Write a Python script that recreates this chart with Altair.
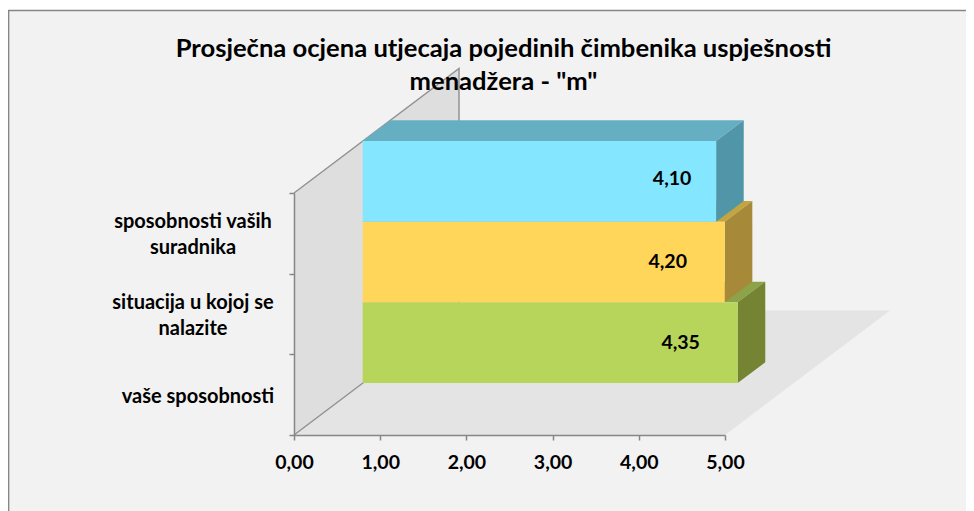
import altair as alt
import pandas as pd

# ---- values (bottom bar first) ----
categories = ["vaše sposobnosti", "situacija u kojoj se\nnalazite", "sposobnosti vaših\nsuradnika"]
values = [4.35, 4.20, 4.10]
value_labels = ["4,35", "4,20", "4,10"]
x_ticks = [0, 1, 2, 3, 4, 5]
y_ticks = [0, 1, 2, 3]
title_lines = ["Prosječna ocjena utjecaja pojedinih čimbenika uspješnosti",
               "menadžera - \"m\"" + "\u00a0" * 9]
front_colors = ["#B8D55B", "#FFD659", "#84E6FF"]
top_colors = ["#8CA348", "#C2A440", "#66AFC2"]
side_colors = ["#748433", "#A68A39", "#5096A8"]

FONT = "Lato"
GREY = "#868686"
W, H = 431, 242
PX = W / 5
PY = H / 3
# oblique projection of the 3-D box, in data units
WALL_DX, WALL_DY = 165 / PX, 124.5 / PY
BAR_OX, BAR_OY = 68.7 / PX, 52 / PY
BAR_DX, BAR_DY = 27.6 / PX, 20.7 / PY
LABEL_BACK = [57 / PX, 57 / PX, 44 / PX]
LABEL_UP = [0 / PY, 0 / PY, 2 / PY]
CAT_LEFT = [96 / PX, 101 / PX, 101 / PX]
CAT_SHIFT = [-2 / PY, 11 / PY, 11 / PY]

xs = alt.Scale(domain=[0, 5], nice=False, zero=False)
ys = alt.Scale(domain=[0, 3], nice=False, zero=False)
common = dict(grid=False, domainColor=GREY, domainWidth=1.5, tickColor=GREY, tickWidth=1.5, tickSize=5,
              zindex=1, title=None)
x_axis = alt.Axis(
    values=x_ticks, labelExpr="replace(format(datum.value, '.2f'), '.', ',')",
    labelFont=FONT, labelFontWeight="bold", labelFontSize=19.5, labelColor="#000000",
    labelPadding=13, labelFlush=False, labelOverlap=False, **common)
y_axis = alt.Axis(values=y_ticks, labels=False, **common)
X = lambda f="x": alt.X(f"{f}:Q", scale=xs, axis=x_axis, stack=None, title=None)
Y = lambda f="y": alt.Y(f"{f}:Q", scale=ys, axis=y_axis, stack=None, title=None)
X2 = alt.X2("x2:Q")
Y2 = alt.Y2("y2:Q")

bg = alt.Chart(pd.DataFrame({"a": [0]})).mark_rect(
    fill="#F2F2F2", stroke=GREY, strokeWidth=1.5
).encode(x=alt.value(-285.4), x2=alt.value(700), y=alt.value(-182.4), y2=alt.value(340))

wall = alt.Chart(pd.DataFrame({
    "x": [0, WALL_DX], "y": [0, WALL_DY], "y2": [3, 3 + WALL_DY]
})).mark_area(orient="vertical", color="#DEDEDE").encode(x=X(), y=Y(), y2=Y2)

floor = alt.Chart(pd.DataFrame({
    "y": [0, WALL_DY], "x": [0, WALL_DX], "x2": [5, 5 + WALL_DX]
})).mark_area(orient="horizontal", color="#E4E4E4").encode(y=Y(), x=X(), x2=X2)

wall_edges = alt.Chart(pd.DataFrame({
    "i": [0, 1, 2, 3],
    "x": [0, WALL_DX, WALL_DX, 0],
    "y": [0, WALL_DY, 3 + WALL_DY, 3],
})).mark_line(color="#929292", strokeWidth=1.5).encode(x=X(), y=Y(), order="i:Q")

bar_layers = []
for i, v in enumerate(values):
    x0, x1 = BAR_OX, BAR_OX + v
    y0, y1 = BAR_OY + i, BAR_OY + i + 1
    front = alt.Chart(pd.DataFrame({"x": [x0], "x2": [x1], "y": [y0], "y2": [y1]})).mark_rect(
        color=front_colors[i]).encode(x=X(), x2=X2, y=Y(), y2=Y2)
    top = alt.Chart(pd.DataFrame({
        "y": [y1, y1 + BAR_DY], "x": [x0, x0 + BAR_DX], "x2": [x1, x1 + BAR_DX]
    })).mark_area(orient="horizontal", color=top_colors[i]).encode(y=Y(), x=X(), x2=X2)
    side = alt.Chart(pd.DataFrame({
        "x": [x1, x1 + BAR_DX], "y": [y0, y0 + BAR_DY], "y2": [y1, y1 + BAR_DY]
    })).mark_area(orient="vertical", color=side_colors[i]).encode(x=X(), y=Y(), y2=Y2)
    bar_layers += [top, side, front]

labels = alt.Chart(pd.DataFrame({
    "x": [BAR_OX + v - b for v, b in zip(values, LABEL_BACK)],
    "y": [BAR_OY + i + 0.5 + u for i, u in enumerate(LABEL_UP)],
    "t": value_labels,
})).mark_text(font=FONT, fontWeight="bold", fontSize=19.5, color="#000000").encode(
    x=X(), y=Y(), text="t:N")

cat_labels = alt.Chart(pd.DataFrame({
    "x": [-b for b in CAT_LEFT],
    "y": [i + 0.5 + s for i, s in enumerate(CAT_SHIFT)],
    "t": categories,
})).mark_text(font=FONT, fontWeight="bold", fontSize=20, color="#000000",
              align="center", baseline="middle", lineBreak="\n", lineHeight=26).encode(
    x=X(), y=Y(), text="t:N")

chart = alt.layer(bg, wall, floor, wall_edges, *bar_layers, labels, cat_labels).properties(
    width=W, height=H,
    padding={"left": 286, "top": 185, "right": 241, "bottom": 76},
    autosize=alt.AutoSizeParams(type="none"),
    background="#FFFFFF",
    title=alt.TitleParams(text=title_lines, font=FONT, fontWeight="bold", fontSize=25.6, color="#000000",
                          anchor="middle", frame="group", dx=-6, offset=-86, lineHeight=33),
).configure_view(stroke=None)

chart.save("out.html", embed_options={"renderer": "svg", "actions": False})
